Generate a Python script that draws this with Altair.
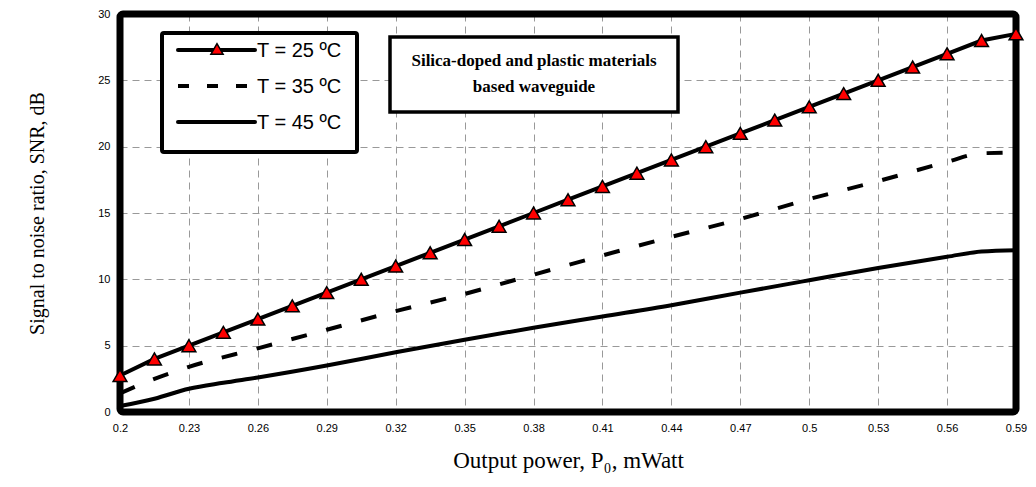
import altair as alt
import pandas as pd

# ---- data ----
x25 = [0.2, 0.215, 0.23, 0.245, 0.26, 0.275, 0.29, 0.305, 0.32, 0.335, 0.35, 0.365, 0.38,
       0.395, 0.41, 0.425, 0.44, 0.455, 0.47, 0.485, 0.5, 0.515, 0.53, 0.545, 0.56, 0.575, 0.59]
y25 = [2.75, 4, 5, 6, 7, 8, 9, 10, 11, 12, 13, 14, 15, 16, 17, 18, 19, 20, 21, 22, 23, 24,
       25, 26, 27, 28, 28.5]

x35 = [0.2, 0.215, 0.23, 0.26, 0.29, 0.32, 0.35, 0.38, 0.41, 0.44, 0.47, 0.5, 0.53, 0.56, 0.575, 0.59]
y35 = [1.4, 2.5, 3.4, 4.8, 6.2, 7.6, 8.9, 10.35, 11.8, 13.2, 14.55, 16.05, 17.4, 18.85, 19.5, 19.55]

x45 = [0.2, 0.215, 0.23, 0.245, 0.26, 0.29, 0.32, 0.35, 0.38, 0.41, 0.44, 0.47, 0.5, 0.53, 0.56, 0.575, 0.59]
y45 = [0.45, 1.0, 1.75, 2.2, 2.6, 3.5, 4.5, 5.45, 6.35, 7.2, 8.05, 9.0, 9.93, 10.85, 11.7, 12.1, 12.2]

x_ticks = [0.2, 0.23, 0.26, 0.29, 0.32, 0.35, 0.38, 0.41, 0.44, 0.47, 0.5, 0.53, 0.56, 0.59]
y_ticks = [0, 5, 10, 15, 20, 25, 30]

legend_labels = ["T = 25 ºC", "T = 35 ºC", "T = 45 ºC"]
title_lines = ["Silica-doped and plastic materials", "based waveguide"]

W, H = 896, 398

d25 = pd.DataFrame({"x": x25, "y": y25})
d35 = pd.DataFrame({"x": x35, "y": y35})
d45 = pd.DataFrame({"x": x45, "y": y45})

xs = alt.Scale(domain=[0.2, 0.59], nice=False, zero=False)
ys = alt.Scale(domain=[0, 30], nice=False)

xax = alt.Axis(values=x_ticks, format=".2~f", title="Output power, P₀, mWatt",
               grid=True, gridDash=[7, 5], gridColor="#999999", gridWidth=1,
               domain=False, ticks=False, labelPadding=10, labelFont="Liberation Sans",
               labelFontSize=11, labelColor="black", titleFont="Liberation Serif",
               titleFontSize=23, titleFontWeight="normal", titleColor="black", titlePadding=16,
               labelFlush=False)
yax = alt.Axis(values=y_ticks, title="Signal to noise ratio, SNR, dB",
               grid=True, gridDash=[7, 5], gridColor="#999999", gridWidth=1,
               domain=False, ticks=False, labelPadding=10, labelFont="Liberation Sans",
               labelFontSize=11, labelColor="black", titleFont="Liberation Serif",
               titleFontSize=20, titleFontWeight="normal", titleColor="black", titlePadding=50,
               labelFlush=False)

base_grid = alt.Chart(d25).mark_point(opacity=0).encode(
    x=alt.X("x:Q", scale=xs, axis=xax),
    y=alt.Y("y:Q", scale=ys, axis=yax),
)

frame = alt.Chart(pd.DataFrame({"a": [0]})).mark_rect(
    fill=None, stroke="black", strokeWidth=7, cornerRadius=3, strokeJoin="round"
).encode(x=alt.value(0), x2=alt.value(W), y=alt.value(0), y2=alt.value(H))

line25 = alt.Chart(d25).mark_line(color="black", strokeWidth=4).encode(
    x=alt.X("x:Q", scale=xs), y=alt.Y("y:Q", scale=ys))
pts25 = alt.Chart(d25).mark_point(shape="triangle-up", filled=True, fill="#ff0000",
                                   stroke="black", strokeWidth=1.5, size=190, opacity=1).encode(
    x=alt.X("x:Q", scale=xs), y=alt.Y("y:Q", scale=ys))
line35 = alt.Chart(d35).mark_line(color="black", strokeWidth=4, strokeDash=[16, 20],
                                   interpolate="monotone").encode(
    x=alt.X("x:Q", scale=xs), y=alt.Y("y:Q", scale=ys))
line45 = alt.Chart(d45).mark_line(color="black", strokeWidth=4, interpolate="monotone").encode(
    x=alt.X("x:Q", scale=xs), y=alt.Y("y:Q", scale=ys))

# ---- legend box (decoration) ----
one = pd.DataFrame({"a": [0]})
leg_box = alt.Chart(one).mark_rect(fill="white", stroke="black", strokeWidth=4, cornerRadius=2).encode(
    x=alt.value(42), x2=alt.value(237), y=alt.value(19), y2=alt.value(138))
leg_l1 = alt.Chart(one).mark_rule(color="black", strokeWidth=4, strokeCap="round").encode(
    x=alt.value(58), x2=alt.value(135), y=alt.value(36))
leg_p1 = alt.Chart(one).mark_point(shape="triangle-up", filled=True, fill="#ff0000", stroke="black",
                                    strokeWidth=1.5, size=150, opacity=1).encode(
    x=alt.value(97), y=alt.value(35))
leg_l2 = alt.Chart(one).mark_rule(color="black", strokeWidth=4, strokeDash=[11, 18]).encode(
    x=alt.value(58), x2=alt.value(135), y=alt.value(72))
leg_l3 = alt.Chart(one).mark_rule(color="black", strokeWidth=4, strokeCap="round").encode(
    x=alt.value(58), x2=alt.value(135), y=alt.value(108))
leg_text = alt.Chart(pd.DataFrame({"t": legend_labels, "yy": [37, 73, 109]})).mark_text(
    align="left", baseline="middle", font="Liberation Sans", fontSize=20, color="black").encode(
    x=alt.value(137), y=alt.Y("yy:Q", scale=None), text="t:N")

# ---- title box ----
tit_box = alt.Chart(one).mark_rect(fill="white", stroke="black", strokeWidth=3.5).encode(
    x=alt.value(270), x2=alt.value(558), y=alt.value(23), y2=alt.value(98))
tit_text = alt.Chart(pd.DataFrame({"t": title_lines, "yy": [47, 73]})).mark_text(
    align="center", baseline="middle", font="Liberation Serif", fontSize=17,
    fontWeight="bold", color="black").encode(
    x=alt.value(414), y=alt.Y("yy:Q", scale=None), text="t:N")

chart = alt.layer(
    base_grid, line45, line35, line25, frame, pts25,
    leg_box, leg_l1, leg_p1, leg_l2, leg_l3, leg_text, tit_box, tit_text
).properties(
    width=W, height=H,
    autosize=alt.AutoSizeParams(type="none"),
    padding={"left": 112, "top": 6, "right": 12, "bottom": 66},
).configure_view(stroke=None).configure(background="white")

chart.save("out.html", embed_options={"renderer": "svg", "actions": False})
